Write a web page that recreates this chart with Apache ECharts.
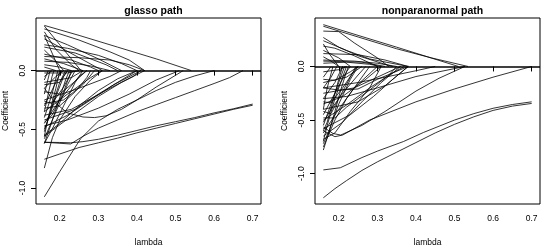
<!DOCTYPE html>
<html>
<head>
<meta charset="utf-8">
<script src="https://cdn.jsdelivr.net/npm/echarts@6/dist/echarts.min.js"></script>
<style>
html,body{margin:0;padding:0;background:#fff;}
#chart{width:541px;height:252px;}
</style>
</head>
<body>
<div id="chart"></div>
<script>
// ---- data ----
const titles = ['glasso path', 'nonparanormal path'];
const xTitle = 'lambda';
const yTitle = 'Coefficient';
const lambdaTicks = [0.2, 0.3, 0.4, 0.5, 0.6, 0.7];
const coefTicks = [-1.0, -0.5, 0.0];
const lambdaRange = [0.1384, 0.7216];
const glassoCoefRange = [-1.136, 0.448];
const npnCoefRange = [-1.283, 0.452];

// glasso regularization paths: [lambda, coefficient]
const glassoPaths = [
  [[0.16,0.385],[0.25,0.30],[0.35,0.20],[0.45,0.10],[0.541,0]],
  [[0.16,0.355],[0.25,0.26],[0.33,0.16],[0.38,0.09],[0.42,0]],
  [[0.16,0.38],[0.20,0.22],[0.24,0.06],[0.255,0]],
  [[0.16,0.30],[0.22,0.22],[0.30,0.10],[0.36,0]],
  [[0.16,0.27],[0.20,0.20],[0.25,0.11],[0.30,0.02],[0.31,0]],
  [[0.16,0.22],[0.22,0.19],[0.30,0.13],[0.36,0.06],[0.40,0]],
  [[0.16,0.175],[0.19,0.08],[0.21,0]],
  [[0.16,0.12],[0.25,0.11],[0.33,0.09],[0.38,0.05],[0.42,0]],
  [[0.16,0.08],[0.22,0.07],[0.28,0.04],[0.33,0]],
  [[0.16,0.05],[0.20,0.03],[0.23,0]],
  [[0.16,0.30],[0.18,0.15],[0.20,0]],
  [[0.16,0.20],[0.24,0.15],[0.32,0.05],[0.35,0]],
  [[0.16,0.03],[0.19,0]],
  [[0.16,0.14],[0.23,0.09],[0.28,0.03],[0.30,0]],
  [[0.16,0.33],[0.19,0.18],[0.23,0.05],[0.25,0]],
  [[0.16,0.10],[0.21,0.06],[0.26,0]],
  [[0.16,-0.58],[0.19,-0.35],[0.22,-0.12],[0.24,0]],
  [[0.16,-0.52],[0.18,-0.30],[0.20,-0.10],[0.215,0]],
  [[0.16,-0.45],[0.20,-0.25],[0.25,-0.05],[0.27,0]],
  [[0.16,-0.40],[0.18,-0.20],[0.195,0]],
  [[0.16,-0.35],[0.22,-0.20],[0.28,-0.06],[0.31,0]],
  [[0.16,-0.30],[0.19,-0.10],[0.205,0]],
  [[0.16,-0.25],[0.25,-0.15],[0.33,-0.05],[0.36,0]],
  [[0.16,-0.20],[0.175,0]],
  [[0.16,-0.15],[0.19,-0.05],[0.21,0]],
  [[0.16,-0.10],[0.23,-0.06],[0.26,0]],
  [[0.16,-0.05],[0.18,0]],
  [[0.16,-0.55],[0.20,-0.45],[0.25,-0.30],[0.30,-0.17],[0.35,-0.07],[0.40,0]],
  [[0.16,-0.48],[0.22,-0.38],[0.28,-0.25],[0.34,-0.12],[0.41,0]],
  [[0.16,-0.42],[0.24,-0.33],[0.30,-0.20],[0.36,-0.08],[0.40,0]],
  [[0.16,-0.62],[0.18,-0.50],[0.21,-0.30],[0.24,-0.10],[0.26,0]],
  [[0.16,-0.56],[0.17,-0.40],[0.19,-0.15],[0.20,0]],
  [[0.16,-0.35],[0.17,-0.20],[0.18,-0.05],[0.185,0]],
  [[0.16,-0.28],[0.21,-0.25],[0.26,-0.12],[0.29,0]],
  [[0.16,-0.12],[0.20,-0.10],[0.22,0]],
  [[0.16,-0.08],[0.17,0]],
  [[0.16,-0.32],[0.20,-0.30],[0.24,-0.18],[0.27,-0.06],[0.28,0]],
  [[0.16,-0.02],[0.22,-0.02],[0.25,0]],
  [[0.16,-0.50],[0.17,-0.42],[0.19,-0.22],[0.21,-0.05],[0.22,0]],
  [[0.16,-0.44],[0.18,-0.38],[0.21,-0.18],[0.23,0]],
  [[0.16,-0.26],[0.18,-0.28],[0.21,-0.14],[0.23,-0.02],[0.235,0]],
  [[0.16,-0.18],[0.20,-0.20],[0.24,-0.09],[0.27,0]],
  [[0.16,-0.62],[0.175,-0.48],[0.195,-0.28],[0.215,-0.08],[0.225,0]],
  [[0.16,-0.47],[0.22,-0.42],[0.30,-0.32],[0.38,-0.20],[0.45,-0.08],[0.51,0]],
  [[0.16,-0.56],[0.217,-0.42],[0.30,-0.22],[0.36,-0.10],[0.42,0]],
  [[0.16,-0.38],[0.23,-0.33],[0.33,-0.15],[0.39,-0.05],[0.41,0]],
  [[0.16,-0.15],[0.19,-0.28],[0.22,-0.36],[0.26,-0.395],[0.29,-0.40],[0.32,-0.385],[0.36,-0.33],[0.40,-0.25],[0.45,-0.14],[0.50,-0.04],[0.52,0]],
  [[0.16,-0.61],[0.228,-0.625],[0.26,-0.56],[0.30,-0.49],[0.35,-0.42],[0.40,-0.35],[0.45,-0.29],[0.50,-0.23],[0.55,-0.17],[0.60,-0.11],[0.64,-0.06],[0.675,0]],
  [[0.16,-1.075],[0.20,-0.86],[0.254,-0.58],[0.30,-0.43],[0.35,-0.33],[0.40,-0.25],[0.45,-0.17],[0.50,-0.10],[0.55,-0.045],[0.60,0]],
  [[0.16,-0.83],[0.181,-0.57],[0.20,-0.42],[0.24,-0.22],[0.28,-0.08],[0.31,0]],
  [[0.16,-0.61],[0.20,-0.612],[0.228,-0.615],[0.26,-0.605],[0.30,-0.585],[0.35,-0.55],[0.40,-0.51],[0.45,-0.47],[0.50,-0.435],[0.55,-0.40],[0.60,-0.36],[0.65,-0.325],[0.70,-0.285]],
  [[0.16,-0.755],[0.20,-0.71],[0.25,-0.655],[0.30,-0.615],[0.35,-0.575],[0.40,-0.53],[0.45,-0.49],[0.50,-0.45],[0.55,-0.41],[0.60,-0.37],[0.65,-0.33],[0.70,-0.295]]
];

// nonparanormal regularization paths: [lambda, coefficient]
const npnPaths = [
  [[0.16,0.39],[0.25,0.29],[0.35,0.18],[0.43,0.09],[0.51,0]],
  [[0.16,0.375],[0.25,0.275],[0.35,0.165],[0.44,0.08],[0.535,0]],
  [[0.16,0.33],[0.20,0.325],[0.24,0.22],[0.30,0.08],[0.33,0]],
  [[0.16,0.27],[0.20,0.18],[0.25,0.10],[0.32,0.02],[0.34,0]],
  [[0.16,0.24],[0.22,0.15],[0.28,0.07],[0.38,0]],
  [[0.16,0.19],[0.19,0.17],[0.24,0.10],[0.30,0]],
  [[0.16,0.15],[0.20,0.08],[0.23,0]],
  [[0.16,0.12],[0.25,0.11],[0.32,0.06],[0.38,0]],
  [[0.16,0.06],[0.24,0.05],[0.30,0.03],[0.35,0]],
  [[0.16,0.03],[0.22,0.04],[0.28,0.02],[0.31,0]],
  [[0.16,0.09],[0.18,0.05],[0.20,0]],
  [[0.16,0.21],[0.175,0.12],[0.20,0]],
  [[0.16,0.05],[0.26,0.04],[0.32,0]],
  [[0.16,-0.78],[0.18,-0.55],[0.20,-0.35],[0.23,-0.12],[0.25,0]],
  [[0.16,-0.75],[0.19,-0.50],[0.22,-0.30],[0.26,-0.10],[0.28,0]],
  [[0.16,-0.70],[0.17,-0.55],[0.19,-0.30],[0.21,-0.10],[0.22,0]],
  [[0.16,-0.62],[0.20,-0.40],[0.24,-0.20],[0.30,0]],
  [[0.16,-0.55],[0.18,-0.35],[0.20,-0.15],[0.215,0]],
  [[0.16,-0.50],[0.22,-0.36],[0.28,-0.20],[0.34,-0.06],[0.37,0]],
  [[0.16,-0.45],[0.19,-0.25],[0.22,-0.05],[0.23,0]],
  [[0.16,-0.40],[0.17,-0.20],[0.185,0]],
  [[0.16,-0.35],[0.21,-0.28],[0.27,-0.12],[0.31,0]],
  [[0.16,-0.30],[0.19,-0.15],[0.21,0]],
  [[0.16,-0.25],[0.24,-0.20],[0.30,-0.10],[0.36,0]],
  [[0.16,-0.20],[0.18,-0.10],[0.195,0]],
  [[0.16,-0.15],[0.22,-0.10],[0.26,0]],
  [[0.16,-0.10],[0.18,0]],
  [[0.16,-0.05],[0.20,-0.03],[0.22,0]],
  [[0.16,-0.65],[0.21,-0.52],[0.26,-0.33],[0.31,-0.15],[0.36,0]],
  [[0.16,-0.58],[0.23,-0.45],[0.29,-0.28],[0.34,-0.12],[0.38,0]],
  [[0.16,-0.48],[0.19,-0.48],[0.22,-0.38],[0.28,-0.22],[0.33,-0.08],[0.35,0]],
  [[0.16,-0.20],[0.20,-0.22],[0.25,-0.21],[0.30,-0.12],[0.38,0]],
  [[0.16,-0.68],[0.19,-0.62],[0.23,-0.42],[0.28,-0.20],[0.31,0]],
  [[0.16,-0.40],[0.25,-0.33],[0.32,-0.18],[0.38,0]],
  [[0.16,-0.12],[0.19,-0.13],[0.23,-0.05],[0.25,0]],
  [[0.16,-0.72],[0.175,-0.60],[0.19,-0.42],[0.205,-0.22],[0.22,-0.05],[0.225,0]],
  [[0.16,-0.60],[0.17,-0.52],[0.185,-0.32],[0.20,-0.12],[0.21,0]],
  [[0.16,-0.42],[0.18,-0.44],[0.20,-0.30],[0.23,-0.10],[0.245,0]],
  [[0.16,-0.33],[0.18,-0.34],[0.21,-0.20],[0.24,-0.04],[0.25,0]],
  [[0.16,-0.52],[0.18,-0.40],[0.21,-0.25],[0.25,-0.08],[0.27,0]],
  [[0.16,-0.30],[0.22,-0.28],[0.30,-0.20],[0.40,-0.094],[0.527,0]],
  [[0.16,-0.20],[0.25,-0.15],[0.32,-0.10],[0.40,-0.04],[0.45,0]],
  [[0.16,-0.565],[0.185,-0.625],[0.205,-0.64],[0.26,-0.55],[0.32,-0.42],[0.40,-0.23],[0.46,-0.11],[0.527,0]],
  [[0.16,-0.60],[0.19,-0.655],[0.21,-0.64],[0.28,-0.50],[0.40,-0.33],[0.50,-0.21],[0.60,-0.10],[0.70,0]],
  [[0.16,-0.965],[0.204,-0.945],[0.26,-0.85],[0.30,-0.79],[0.368,-0.70],[0.42,-0.615],[0.50,-0.50],[0.55,-0.44],[0.60,-0.39],[0.65,-0.355],[0.70,-0.33]],
  [[0.16,-1.225],[0.19,-1.14],[0.22,-1.065],[0.26,-0.97],[0.30,-0.89],[0.35,-0.80],[0.40,-0.71],[0.45,-0.62],[0.50,-0.54],[0.55,-0.47],[0.60,-0.41],[0.65,-0.37],[0.70,-0.345]]
];

// ---- chart ----
const FONT = '"Liberation Sans", Arial, Helvetica, sans-serif';
const grids = [
  {left: 36, top: 18, width: 225, height: 197},
  {left: 315, top: 18, width: 225, height: 196}
];
const coefRanges = [glassoCoefRange, npnCoefRange];
const allPaths = [glassoPaths, npnPaths];

const chart = echarts.init(document.getElementById('chart'), null, {renderer: 'canvas'});

const option = {
  animation: false,
  backgroundColor: '#fff',
  textStyle: {fontFamily: FONT},
  title: titles.map((t, i) => ({
    text: t,
    left: grids[i].left + grids[i].width / 2,
    top: 1,
    textAlign: 'center',
    textStyle: {fontFamily: FONT, fontWeight: 'bold', fontSize: 10.5, color: '#000'}
  })),
  grid: grids.map(g => Object.assign({show: true, borderColor: '#000', borderWidth: 1, backgroundColor: 'transparent', containLabel: false}, g)),
  xAxis: grids.map((g, i) => ({
    type: 'value', gridIndex: i, min: lambdaRange[0], max: lambdaRange[1],
    name: xTitle, nameLocation: 'middle', nameGap: 34,
    nameTextStyle: {fontFamily: FONT, fontSize: 8.5, color: '#000'},
    axisLine: {show: false},
    splitLine: {show: false},
    axisTick: {show: true, inside: false, length: 5, customValues: lambdaTicks, lineStyle: {color: '#000', width: 1}},
    axisLabel: {show: true, margin: 10, customValues: lambdaTicks, fontFamily: FONT, fontSize: 8.5, color: '#000', formatter: v => v.toFixed(1)}
  })),
  yAxis: grids.map((g, i) => ({
    type: 'value', gridIndex: i, min: coefRanges[i][0], max: coefRanges[i][1],
    name: yTitle, nameLocation: 'middle', nameGap: 26, nameRotate: 90,
    nameTextStyle: {fontFamily: FONT, fontSize: 8.5, color: '#000'},
    axisLine: {show: false},
    splitLine: {show: false},
    axisTick: {show: true, inside: false, length: 5, customValues: coefTicks, lineStyle: {color: '#000', width: 1}},
    axisLabel: {show: true, margin: 9, rotate: 90, customValues: coefTicks, fontFamily: FONT, fontSize: 8.5, color: '#000', formatter: v => v.toFixed(1)}
  })),
  series: []
};

allPaths.forEach((paths, gi) => {
  paths.forEach((p, k) => {
    const s = {
      type: 'line', xAxisIndex: gi, yAxisIndex: gi,
      data: p, showSymbol: false, symbol: 'none', silent: true,
      lineStyle: {color: '#000', width: 0.8},
      z: 3
    };
    if (k === 0) {
      s.markLine = {
        silent: true, symbol: 'none', label: {show: false},
        lineStyle: {color: '#000', width: 1.5, type: 'solid'},
        data: [{yAxis: 0}]
      };
    }
    option.series.push(s);
  });
});

chart.setOption(option);
</script>
</body>
</html>
